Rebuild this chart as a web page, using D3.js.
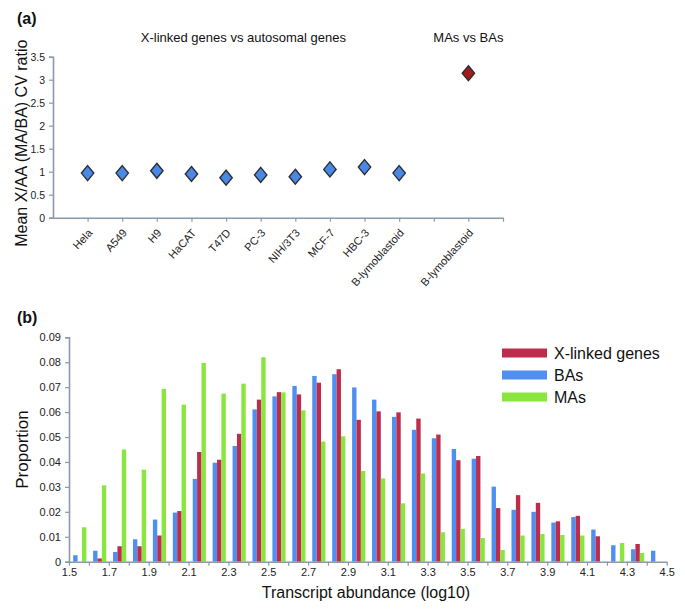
<!DOCTYPE html>
<html>
<head>
<meta charset="utf-8">
<script src="https://cdn.jsdelivr.net/npm/d3@7"></script>
<style>
  html, body { margin: 0; padding: 0; background: #fff; }
  svg { display: block; font-family: "Liberation Sans", Arial, Helvetica, sans-serif; }
</style>
</head>
<body>
<svg id="chart" width="685" height="612"></svg>
<script>
// ---------- Panel (a) data ----------
const cellLines = ["Hela", "A549", "H9", "HaCAT", "T47D", "PC-3", "NIH/3T3", "MCF-7", "HBC-3", "B-lymoblastoid"];
const xaRatio = [0.97, 0.97, 1.02, 0.95, 0.87, 0.93, 0.89, 1.05, 1.10, 0.97];
const maBaLines = ["B-lymoblastoid"];
const maBaRatio = [3.14];
const aYTicks = [0, 0.5, 1, 1.5, 2, 2.5, 3, 3.5];

// ---------- Panel (b) data ----------
const binStarts = [1.5, 1.6, 1.7, 1.8, 1.9, 2.0, 2.1, 2.2, 2.3, 2.4, 2.5, 2.6, 2.7, 2.8, 2.9,
                   3.0, 3.1, 3.2, 3.3, 3.4, 3.5, 3.6, 3.7, 3.8, 3.9, 4.0, 4.1, 4.2, 4.3, 4.4];
const xLinked = [0, 0.0013, 0.0062, 0.0062, 0.0105, 0.0203, 0.044, 0.0409, 0.0513, 0.065,
                 0.068, 0.0671, 0.0718, 0.0772, 0.0569, 0.0603, 0.0599, 0.0574, 0.051, 0.0407,
                 0.0424, 0.0215, 0.0267, 0.0236, 0.0162, 0.0184, 0.0102, 0, 0.0071, 0];
const bas = [0.0026, 0.0044, 0.0039, 0.009, 0.0169, 0.0197, 0.0332, 0.0397, 0.0464, 0.0611,
             0.0663, 0.0705, 0.0745, 0.0752, 0.0699, 0.065, 0.0581, 0.0529, 0.0495, 0.0452,
             0.0413, 0.0301, 0.0208, 0.02, 0.0157, 0.0179, 0.0129, 0.0066, 0.005, 0.0044];
const mas = [0.0138, 0.0306, 0.045, 0.0369, 0.0693, 0.063, 0.0797, 0.0674, 0.0714, 0.082,
             0.0679, 0.0607, 0.0482, 0.0503, 0.0364, 0.0334, 0.0234, 0.0354, 0.0118, 0.0132,
             0.0095, 0.0047, 0.0105, 0.0111, 0.0107, 0.0105, 0, 0.0075, 0.0035, 0];
const barOrder = ["BAs", "X-linked genes", "MAs"];
const legendOrder = ["X-linked genes", "BAs", "MAs"];
const bYTicks = [0, 0.01, 0.02, 0.03, 0.04, 0.05, 0.06, 0.07, 0.08, 0.09];
const bXLabels = [1.5, 1.7, 1.9, 2.1, 2.3, 2.5, 2.7, 2.9, 3.1, 3.3, 3.5, 3.7, 3.9, 4.1, 4.3, 4.5];

// ---------- styling ----------
const axisColor = "#8a9aaa";
const textColor = "#222";
const colors = { "X-linked genes": "#bd2d4b", "BAs": "#4f8ff0", "MAs": "#88e63e" };

const svg = d3.select("#chart");
svg.append("rect").attr("width", 685).attr("height", 612).attr("fill", "#fff");

function styleAxis(g) {
  g.selectAll(".domain").attr("stroke", axisColor).attr("stroke-width", 1.6);
  g.selectAll(".tick line").attr("stroke", axisColor).attr("stroke-width", 1.2);
  g.selectAll(".tick text").attr("fill", textColor);
}

// ================= Panel (a) =================
const ax = d3.scaleLinear().domain([0, 13]).range([53, 503]);
const ay = d3.scaleLinear().domain([0, 3.5]).range([217.7, 56.7]);

svg.append("text").attr("x", 17).attr("y", 24).attr("font-size", 16).attr("font-weight", "bold")
  .attr("fill", "#111").text("(a)");

svg.append("text").attr("x", ax(5.5)).attr("y", 42).attr("text-anchor", "middle")
  .attr("font-size", 13).attr("fill", "#111").text("X-linked genes vs autosomal genes");
svg.append("text").attr("x", ax(12)).attr("y", 42).attr("text-anchor", "middle")
  .attr("font-size", 13).attr("fill", "#111").text("MAs vs BAs");

// y axis
const ayAxis = svg.append("g").attr("transform", `translate(${ax(0)},0)`)
  .call(d3.axisLeft(ay).tickValues(aYTicks).tickSize(4).tickPadding(4).tickFormat(d3.format("~g")));
ayAxis.selectAll("text").attr("font-size", 10.5);
styleAxis(ayAxis);

// x axis
const aPositions = cellLines.map((d, i) => i + 1);
const maBaPositions = maBaLines.map((d, i) => 12 + i);
const aLabelMap = new Map();
cellLines.forEach((d, i) => aLabelMap.set(aPositions[i], d));
maBaLines.forEach((d, i) => aLabelMap.set(maBaPositions[i], d));
const axAxis = svg.append("g").attr("transform", `translate(0,${ay(0)})`)
  .call(d3.axisBottom(ax).tickValues(d3.range(1, 14)).tickSize(4).tickSizeOuter(0)
    .tickFormat(d => aLabelMap.get(d) || ""));
axAxis.selectAll("text")
  .attr("font-size", 11)
  .attr("text-anchor", "end")
  .attr("dy", "0.35em")
  .attr("transform", "translate(2,13) rotate(-48)")
  .attr("y", 0).attr("x", 0);
styleAxis(axAxis);

svg.append("text")
  .attr("transform", `translate(27,${(ay(0) + ay(3.5)) / 2 + 6}) rotate(-90)`)
  .attr("text-anchor", "middle").attr("font-size", 16).attr("fill", "#111")
  .text("Mean X/AA (MA/BA) CV ratio");

// diamonds
const diamond = (cx, cy) => `M${cx},${cy - 7.5} L${cx + 6.2},${cy} L${cx},${cy + 7.5} L${cx - 6.2},${cy} Z`;
svg.append("g").selectAll("path").data(xaRatio).join("path")
  .attr("d", (d, i) => diamond(ax(aPositions[i]), ay(d)))
  .attr("fill", "#4a88e4").attr("stroke", "#2b2f36").attr("stroke-width", 1.4);
svg.append("g").selectAll("path").data(maBaRatio).join("path")
  .attr("d", (d, i) => diamond(ax(maBaPositions[i]), ay(d)))
  .attr("fill", "#a3191c").attr("stroke", "#2b2f36").attr("stroke-width", 1.4);

// ================= Panel (b) =================
const bx = d3.scaleLinear().domain([1.5, 4.5]).range([69, 666.7]);
const by = d3.scaleLinear().domain([0, 0.09]).range([561.7, 337.3]);

svg.append("text").attr("x", 17).attr("y", 323).attr("font-size", 16).attr("font-weight", "bold")
  .attr("fill", "#111").text("(b)");

const seriesValues = { "X-linked genes": xLinked, "BAs": bas, "MAs": mas };
const binW = bx(1.6) - bx(1.5);
const inner = d3.scaleBand().domain(barOrder).range([0.21 * binW, 0.87 * binW]).padding(0);

const bars = svg.append("g");
barOrder.forEach(s => {
  bars.append("g").selectAll("rect").data(seriesValues[s]).join("rect")
    .attr("x", (d, i) => bx(binStarts[i]) + inner(s))
    .attr("width", inner.bandwidth())
    .attr("y", d => by(d))
    .attr("height", d => by(0) - by(d))
    .attr("fill", colors[s]);
});

const byAxis = svg.append("g").attr("transform", `translate(${bx(1.5)},0)`)
  .call(d3.axisLeft(by).tickValues(bYTicks).tickSize(4).tickPadding(4).tickFormat(d => d === 0 ? "0" : d3.format(".2f")(d)));
byAxis.selectAll("text").attr("font-size", 11);
styleAxis(byAxis);

const bxTickVals = binStarts.concat([4.5]);
const bLabelSet = new Set(bXLabels.map(v => v.toFixed(1)));
const bxAxis = svg.append("g").attr("transform", `translate(0,${by(0)})`)
  .call(d3.axisBottom(bx).tickValues(bxTickVals).tickSize(4).tickSizeOuter(0).tickPadding(3)
    .tickFormat(d => bLabelSet.has(d.toFixed(1)) ? d.toFixed(1) : ""));
bxAxis.selectAll("text").attr("font-size", 11);
styleAxis(bxAxis);

svg.append("text")
  .attr("transform", `translate(28,${(by(0) + by(0.09)) / 2}) rotate(-90)`)
  .attr("text-anchor", "middle").attr("font-size", 17).attr("fill", "#111")
  .text("Proportion");

svg.append("text").attr("x", 366).attr("y", 598).attr("text-anchor", "middle")
  .attr("font-size", 16).attr("fill", "#111").text("Transcript abundance (log10)");

// legend
const legend = svg.append("g").attr("transform", "translate(502,353)");
legendOrder.forEach((s, i) => {
  const g = legend.append("g").attr("transform", `translate(0,${i * 22})`);
  g.append("rect").attr("x", 0).attr("y", -4.5).attr("width", 45).attr("height", 9).attr("fill", colors[s]);
  g.append("text").attr("x", 52).attr("y", 5.5).attr("font-size", 16).attr("fill", "#111").text(s);
});
</script>
</body>
</html>
